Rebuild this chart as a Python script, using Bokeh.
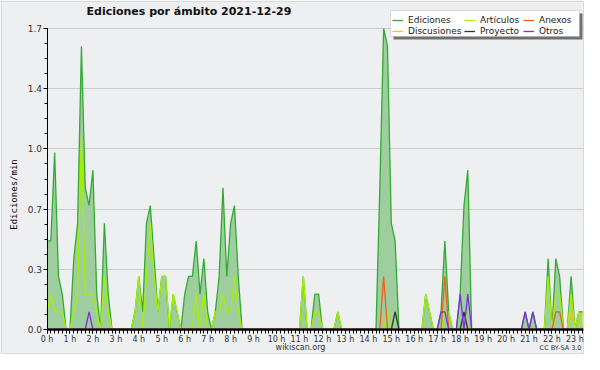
import math
from bokeh.plotting import figure
from bokeh.models import (ColumnDataSource, FixedTicker, PrintfTickFormatter, Range1d,
                          Legend, LegendItem, Label, BoxAnnotation)
from bokeh.embed import file_html
from bokeh.resources import INLINE

# ---------------- data (edits per minute, 10-minute slots from 00:00) ----------------
slot_minutes = 10
title_text = "Ediciones por ámbito  2021-12-29"
y_label = "Ediciones/min"
y_max = 1.7
hour_labels = [f"{h} h" for h in range(24)]

ediciones = [
    0.5, 0.5, 1.0, 0.3, 0.2, 0.0,   # 0 h
    0.0, 0.4, 0.6, 1.6, 0.8, 0.7,   # 1 h
    0.9, 0.2, 0.0, 0.6, 0.2, 0.0,   # 2 h
    0.0, 0.0, 0.0, 0.0, 0.0, 0.1,   # 3 h
    0.3, 0.1, 0.6, 0.7, 0.4, 0.1,   # 4 h
    0.3, 0.3, 0.0, 0.2, 0.1, 0.0,   # 5 h
    0.2, 0.3, 0.3, 0.5, 0.2, 0.4,   # 6 h
    0.1, 0.0, 0.1, 0.3, 0.8, 0.3,   # 7 h
    0.6, 0.7, 0.3, 0.0, 0.0, 0.0,   # 8 h
    0.0, 0.0, 0.0, 0.0, 0.0, 0.0,   # 9 h
    0.0, 0.0, 0.0, 0.0, 0.0, 0.0,   # 10 h
    0.0, 0.3, 0.0, 0.0, 0.2, 0.2,   # 11 h
    0.0, 0.0, 0.0, 0.0, 0.1, 0.0,   # 12 h
    0.0, 0.0, 0.0, 0.0, 0.0, 0.0,   # 13 h
    0.0, 0.0, 0.0, 0.8, 1.7, 1.6,   # 14 h
    0.6, 0.5, 0.0, 0.0, 0.0, 0.0,   # 15 h
    0.0, 0.0, 0.0, 0.2, 0.1, 0.0,   # 16 h
    0.0, 0.1, 0.5, 0.1, 0.0, 0.0,   # 17 h
    0.2, 0.7, 0.9, 0.0, 0.0, 0.0,   # 18 h
    0.0, 0.0, 0.0, 0.0, 0.0, 0.0,   # 19 h
    0.0, 0.0, 0.0, 0.0, 0.0, 0.1,   # 20 h
    0.0, 0.1, 0.0, 0.0, 0.0, 0.4,   # 21 h
    0.0, 0.4, 0.3, 0.0, 0.0, 0.3,   # 22 h
    0.0, 0.1, 0.1,                  # 23 h
]

articulos = [
    0.1, 0.2, 0.1, 0.1, 0.1, 0.0,
    0.0, 0.1, 0.2, 1.1, 0.2, 0.2,
    0.2, 0.1, 0.0, 0.3, 0.1, 0.0,
    0.0, 0.0, 0.0, 0.0, 0.0, 0.1,
    0.3, 0.0, 0.3, 0.6, 0.3, 0.1,
    0.3, 0.3, 0.0, 0.2, 0.1, 0.0,
    0.0, 0.0, 0.0, 0.2, 0.0, 0.2,
    0.0, 0.0, 0.1, 0.1, 0.2, 0.1,
    0.1, 0.3, 0.1, 0.0, 0.0, 0.0,
    0.0, 0.0, 0.0, 0.0, 0.0, 0.0,
    0.0, 0.0, 0.0, 0.0, 0.0, 0.0,
    0.0, 0.3, 0.0, 0.0, 0.1, 0.1,
    0.0, 0.0, 0.0, 0.0, 0.1, 0.0,
    0.0, 0.0, 0.0, 0.0, 0.0, 0.0,
    0.0, 0.0, 0.0, 0.0, 0.0, 0.1,
    0.0, 0.0, 0.0, 0.0, 0.0, 0.0,
    0.0, 0.0, 0.0, 0.2, 0.1, 0.0,
    0.0, 0.0, 0.1, 0.1, 0.0, 0.0,
    0.0, 0.0, 0.0, 0.0, 0.0, 0.0,
    0.0, 0.0, 0.0, 0.0, 0.0, 0.0,
    0.0, 0.0, 0.0, 0.0, 0.0, 0.0,
    0.0, 0.0, 0.0, 0.0, 0.0, 0.3,
    0.0, 0.2, 0.2, 0.0, 0.0, 0.2,
    0.0, 0.1, 0.0,
]

# sparse series: {slot index: edits/min}
anexos_pts = {88: 0.3, 104: 0.3, 133: 0.1, 134: 0.1}
otros_pts = {11: 0.1, 103: 0.1, 104: 0.1, 108: 0.2, 110: 0.2, 125: 0.1, 127: 0.1}
proyecto_pts = {91: 0.1, 109: 0.1}
discusiones_pts = {137: 0.1, 140: 0.1}

n = len(ediciones)
def dense(pts):
    return [pts.get(k, 0.0) for k in range(n)]

anexos = dense(anexos_pts)
otros = dense(otros_pts)
proyecto = dense(proyecto_pts)
discusiones = dense(discusiones_pts)

# ---------------- build ----------------
hours = [k * slot_minutes / 60 for k in range(n)]
src = ColumnDataSource(dict(x=hours, ed=ediciones, ar=articulos, an=anexos,
                            ot=otros, pr=proyecto, di=discusiones))

FONT = "DejaVu Sans"
W, H = 584, 354
# layout in pixels: the frame covers the whole canvas, data area placed inside
LEFT_PX, RIGHT_PX = 46.5, 583
TOP_PX, ZERO_PX = 28, 329
x_end = hours[-1] + 0.04
ppx = (RIGHT_PX - LEFT_PX) / x_end
ppy = (ZERO_PX - TOP_PX) / y_max
x_range = Range1d(-LEFT_PX / ppx, x_end + (W - RIGHT_PX) / ppx)
y_range = Range1d(-(H - ZERO_PX) / ppy, y_max + TOP_PX / ppy)

BG = "#eeeff1"
p = figure(width=W, height=H, output_backend="svg", toolbar_location=None,
           x_range=x_range, y_range=y_range,
           min_border_left=0, min_border_right=0, min_border_top=0, min_border_bottom=0)
p.background_fill_color = BG
p.border_fill_color = BG
p.outline_line_color = None

p.varea(x="x", y1=0, y2="ed", source=src, fill_color="#9ecd9e", fill_alpha=1.0)
r_ed = p.line("x", "ed", source=src, line_color="#33aa33", line_width=1.3)
r_di = p.line("x", "di", source=src, line_color="#f5c518", line_width=1.3)
r_ar = p.line("x", "ar", source=src, line_color="#a6f000", line_width=1.3)
r_an = p.line("x", "an", source=src, line_color="#f2601e", line_width=1.3)
r_pr = p.line("x", "pr", source=src, line_color="#333333", line_width=1.3)
r_ot = p.line("x", "ot", source=src, line_color="#7b2fe0", line_width=1.3)

# x axis drawn at y = 0
xa = p.xaxis[0]
xa.fixed_location = 0
xa.bounds = (0, x_end)
xa.ticker = FixedTicker(ticks=list(range(24)), minor_ticks=hours)
xa.major_label_overrides = {h: hour_labels[h] for h in range(24)}
xa.axis_line_width = 2
xa.axis_line_color = "black"
xa.major_tick_out = 4
xa.major_tick_in = 0
xa.minor_tick_out = 4
xa.minor_tick_in = 0
xa.major_tick_line_color = "black"
xa.minor_tick_line_color = "black"
xa.major_label_standoff = 1
xa.major_label_text_font = FONT
xa.major_label_text_font_size = "8px"
xa.major_label_text_color = "#333333"

# y axis drawn at x = 0
ya = p.yaxis[0]
ya.fixed_location = 0
step = y_max / 5
ya.bounds = (0, y_max)
ya.ticker = FixedTicker(ticks=[round(i * step, 4) for i in range(6)],
                        minor_ticks=[round(i * step / 4, 4) for i in range(21)])
ya.formatter = PrintfTickFormatter(format="%.1f")
ya.axis_line_color = "black"
ya.major_tick_out = 4
ya.major_tick_in = 0
ya.minor_tick_out = 3
ya.minor_tick_in = 0
ya.major_label_text_font = FONT
ya.major_label_text_font_size = "9px"
ya.major_label_text_color = "#333333"
ya.major_label_standoff = 1

p.xgrid.grid_line_color = None
p.ygrid.ticker = ya.ticker
p.ygrid.grid_line_color = "#cccccc"
p.ygrid.grid_line_width = 1
p.ygrid.bounds = (0, y_max)
p.ygrid.cross_bounds = (0, x_end)

def screen_box(left, right, top, bottom, **kw):
    """Box given in canvas pixels (top/bottom measured from the top)."""
    return BoxAnnotation(left=left, right=right, top=H - top, bottom=H - bottom,
                         left_units="screen", right_units="screen",
                         bottom_units="screen", top_units="screen", **kw)

# outer frame line
p.add_layout(screen_box(1, W - 1, 1, H - 1, fill_alpha=0, line_color="#aaaaaa", line_width=1))

# texts (screen units relative to the frame = canvas; y upwards from the bottom)
p.add_layout(Label(x=86, y=H - 17, x_units="screen", y_units="screen", text=title_text,
                   text_font=FONT, text_font_style="bold", text_font_size="11px",
                   text_color="#111111"))
p.add_layout(Label(x=13, y=H - 194, x_units="screen", y_units="screen", text=y_label,
                   angle=math.pi / 2, text_align="center", text_baseline="middle",
                   text_font="DejaVu Sans Mono", text_font_size="9px", text_color="black"))
p.add_layout(Label(x=300, y=3, x_units="screen", y_units="screen", text="wikiscan.org",
                   text_font=FONT, text_font_size="8px", text_color="#333333",
                   text_align="center"))
p.add_layout(Label(x=581, y=3, x_units="screen", y_units="screen", text="CC BY-SA 3.0",
                   text_font=FONT, text_font_size="6.5px", text_color="#333333",
                   text_align="right"))

# legend: shadow, white box, then three columns of two entries
BOX_L, BOX_R, BOX_T, BOX_B = 390, 579, 10, 36
p.add_layout(screen_box(BOX_L + 3, BOX_R + 3, BOX_T + 3, BOX_B + 3,
                        fill_color="#707070", fill_alpha=1.0, line_color=None))
p.add_layout(screen_box(BOX_L, BOX_R, BOX_T, BOX_B,
                        fill_color="white", fill_alpha=1.0, line_color="#999999", line_width=1))

legend_columns = [
    [("Ediciones", r_ed), ("Discusiones", r_di)],
    [("Artículos", r_ar), ("Proyecto", r_pr)],
    [("Anexos", r_an), ("Otros", r_ot)],
]
col_x = [BOX_L + 2, BOX_L + 74, BOX_L + 133]
for cx, entries in zip(col_x, legend_columns):
    lg = Legend(items=[LegendItem(label=lab, renderers=[r]) for lab, r in entries],
                orientation="vertical", location=(cx, H - BOX_T - 1 - 25))
    lg.background_fill_alpha = 0
    lg.border_line_color = None
    lg.label_text_font = FONT
    lg.label_text_font_size = "9px"
    lg.label_text_color = "#222222"
    lg.label_height = 10
    lg.glyph_height = 10
    lg.glyph_width = 11
    lg.label_standoff = 5
    lg.spacing = 1
    lg.padding = 2
    lg.margin = 0
    p.add_layout(lg, "center")

open("out.html", "w").write(file_html(p, INLINE))
